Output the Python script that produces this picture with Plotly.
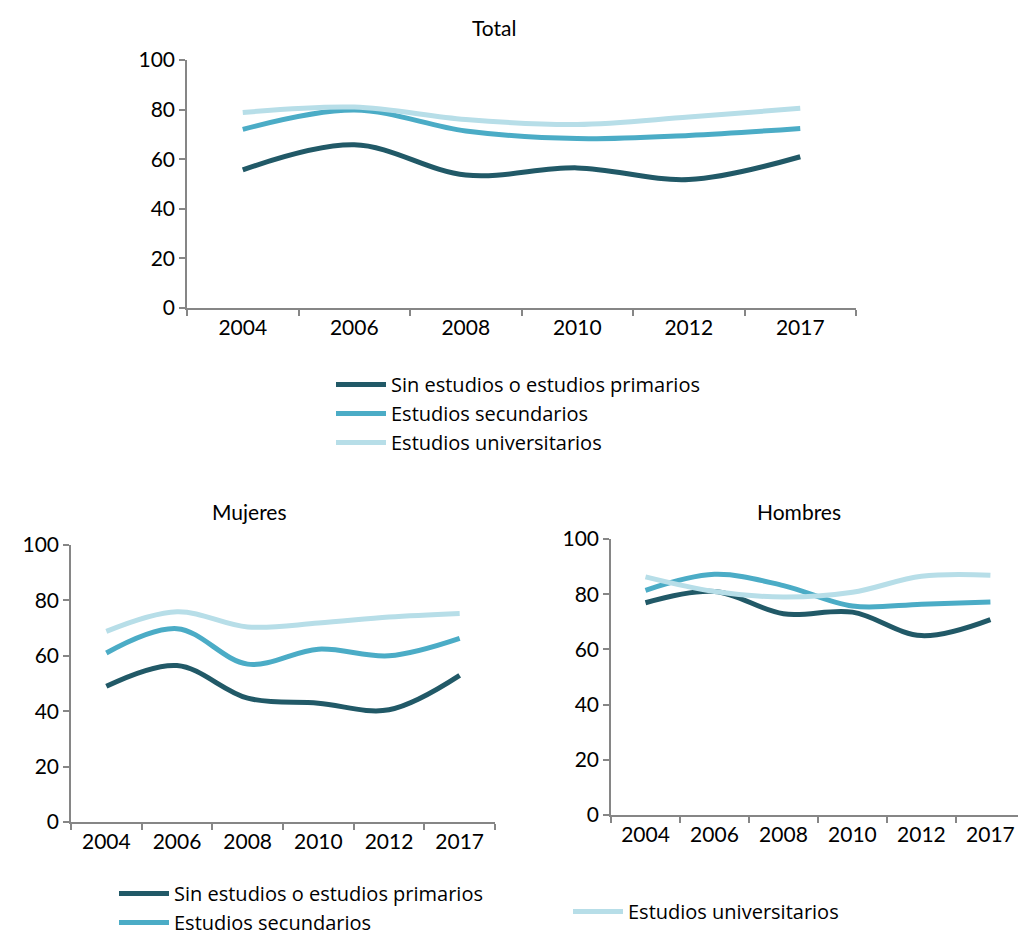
import plotly.graph_objects as go

years = ["2004", "2006", "2008", "2010", "2012", "2017"]
series_names = ["Sin estudios o estudios primarios", "Estudios secundarios", "Estudios universitarios"]
colors = ["#215967", "#4bacc6", "#b7dee8"]

total_sin = [55.7, 65.8, 53.6, 56.5, 51.8, 61.0]
total_sec = [72.0, 79.8, 71.4, 68.3, 69.6, 72.4]
total_uni = [78.8, 81.0, 76.0, 74.0, 77.0, 80.5]

mujeres_sin = [49.0, 56.5, 44.7, 42.9, 40.5, 52.9]
mujeres_sec = [61.0, 69.8, 57.0, 62.4, 60.0, 66.3]
mujeres_uni = [68.8, 75.9, 70.4, 71.8, 74.0, 75.3]

hombres_sin = [76.9, 81.0, 72.9, 73.5, 65.0, 70.8]
hombres_sec = [81.4, 87.2, 83.1, 75.7, 76.4, 77.2]
hombres_uni = [86.3, 81.0, 79.0, 80.7, 86.5, 86.9]

FONT = "Lato"
LEG_FONT = "Open Sans"
fig = go.Figure()

panels = [
    ("x", "y", [total_sin, total_sec, total_uni], "legend", [True, True, True]),
    ("x2", "y2", [mujeres_sin, mujeres_sec, mujeres_uni], "legend2", [True, True, False]),
    ("x3", "y3", [hombres_sin, hombres_sec, hombres_uni], "legend3", [False, False, True]),
]
for xa, ya, data, lg, shows in panels:
    for name, vals, col, sh in zip(series_names, data, colors, shows):
        fig.add_trace(go.Scatter(
            x=years, y=vals, name=name, mode="lines", xaxis=xa, yaxis=ya,
            line=dict(color=col, width=5, shape="spline", smoothing=1.0),
            legend=lg, showlegend=sh,
        ))

# figure taller than the window (page overflow hidden) so the bottom legend never squeezes the plots
W, H = 1018, 970
def px(x):
    return x / W
def py(y):
    return 1 - y / H

axis_common = dict(showline=True, linecolor="#868686", linewidth=1.5, ticks="outside",
                   tickcolor="#868686", ticklen=6, tickwidth=1.5, showgrid=False, zeroline=False,
                   automargin=False, tickfont=dict(family=FONT, size=21, color="#000000"))

def xaxis(domain, rng, anchor):
    d = dict(axis_common)
    d.update(domain=domain, range=rng, anchor=anchor, type="category", tickson="boundaries")
    return d

def yaxis(domain, anchor):
    d = dict(axis_common)
    d.update(domain=domain, range=[0, 100], dtick=20, anchor=anchor)
    return d

leg_common = dict(xanchor="left", yanchor="top", orientation="v", bgcolor="rgba(0,0,0,0)",
                  font=dict(family=LEG_FONT, size=20, color="#000000"), itemwidth=50, tracegroupgap=0)

fig.update_layout(
    width=W, height=H, margin=dict(l=0, r=0, t=0, b=0),
    paper_bgcolor="white", plot_bgcolor="white",
    font=dict(family=FONT, size=21, color="#000000"),
    xaxis=xaxis([px(187), px(856)], [-0.5, 5.5], "y"),
    yaxis=yaxis([py(308), py(60)], "x"),
    xaxis2=xaxis([px(71), px(495)], [-0.5, 5.5], "y2"),
    yaxis2=yaxis([py(822), py(545)], "x2"),
    xaxis3=xaxis([px(611), 1.0], [-0.5, 5.4], "y3"),
    yaxis3=yaxis([py(815), py(539)], "x3"),
    legend=dict(x=px(331), y=py(365), **leg_common),
    legend2=dict(x=px(114), y=py(874), **leg_common),
    legend3=dict(x=px(568), y=py(892), **leg_common),
    annotations=[
        dict(text="Total", x=px(494), y=py(27), xref="paper", yref="paper", showarrow=False,
             font=dict(family=FONT, size=21), xanchor="center", yanchor="middle"),
        dict(text="Mujeres", x=px(249), y=py(511), xref="paper", yref="paper", showarrow=False,
             font=dict(family=FONT, size=21), xanchor="center", yanchor="middle"),
        dict(text="Hombres", x=px(799), y=py(511), xref="paper", yref="paper", showarrow=False,
             font=dict(family=FONT, size=21), xanchor="center", yanchor="middle"),
    ],
)

fig.write_html(
    "out.html",
    config={"displayModeBar": False},
    post_script="document.body.style.margin='0px';document.body.style.overflow='hidden';",
)
